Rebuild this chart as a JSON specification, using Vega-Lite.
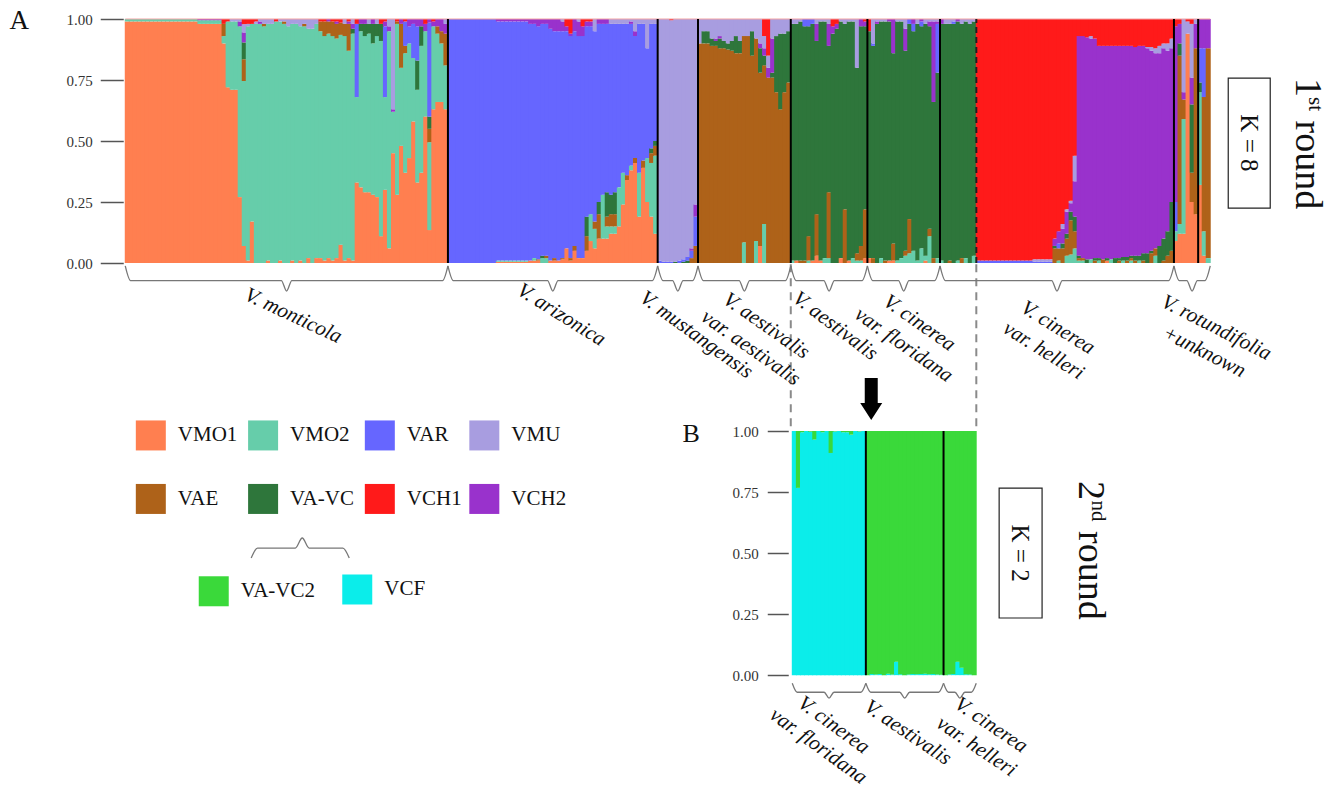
{
"$schema": "https://vega.github.io/schema/vega-lite/v6.json",
"background": "white",
"padding": {"left": 9.25, "top": 7, "right": 5, "bottom": 5},
"config": {"view": {"stroke": null}, "font": "Liberation Serif"},
"datasets": {
"A": [
{"id":1,"a":0.99,"b":0.01},{"id":2,"a":0.99,"b":0.01},{"id":3,"a":0.99,"b":0.01},{"id":4,"a":0.99,"b":0.01},{"id":5,"a":0.99,"b":0.01},{"id":6,"a":0.99,"b":0.01},{"id":7,"a":0.99,"b":0.01},{"id":8,"a":0.99,"b":0.01},{"id":9,"a":0.99,"b":0.01},{"id":10,"a":0.99,"b":0.01},{"id":11,"a":0.99,"b":0.01},{"id":12,"a":0.99,"b":0.01},{"id":13,"a":0.99,"b":0.01},{"id":14,"a":0.99,"b":0.01},{"id":15,"a":0.99,"b":0.01},{"id":16,"a":0.99,"b":0.01},{"id":17,"a":0.99,"b":0.01},{"id":18,"a":0.99,"b":0.01},
{"id":19,"a":0.98,"b":0.015,"f":0.005},{"id":20,"a":0.98,"b":0.015,"f":0.005},{"id":21,"a":0.98,"b":0.015,"f":0.005},{"id":22,"a":0.98,"b":0.015,"f":0.005},{"id":23,"a":0.98,"b":0.015,"f":0.005},{"id":24,"a":0.98,"b":0.015,"f":0.005},
{"id":25,"a":0.9,"b":0.03,"c":0.05,"h":0.02},
{"id":26,"a":0.72,"b":0.27,"h":0.01},
{"id":27,"a":0.71,"b":0.28,"g":0.01},
{"id":28,"a":0.71,"b":0.28,"g":0.01},
{"id":29,"a":0.27,"b":0.7,"f":0.02,"g":0.01},
{"id":30,"a":0.07,"b":0.676,"c":0.089,"d":0.069,"f":0.041,"g":0.034,"h":0.021},
{"id":31,"a":0.01,"b":0.96,"g":0.01,"h":0.02},
{"id":32,"a":0.17,"b":0.81,"h":0.02},
{"id":33,"b":0.98,"g":0.01,"h":0.01},
{"id":34,"b":0.98,"f":0.01,"g":0.01},
{"id":35,"b":0.97,"c":0.01,"g":0.02},
{"id":36,"a":0.01,"b":0.97,"g":0.02},
{"id":37,"b":0.98,"g":0.02},
{"id":38,"b":0.99,"h":0.01},
{"id":39,"a":0.01,"b":0.98,"g":0.01},
{"id":40,"b":0.98,"c":0.01,"g":0.01},
{"id":41,"b":0.97,"g":0.03},
{"id":42,"a":0.01,"b":0.97,"g":0.02},
{"id":43,"b":0.98,"g":0.02},
{"id":44,"a":0.01,"b":0.96,"g":0.03},
{"id":45,"b":0.97,"c":0.01,"g":0.02},
{"id":46,"a":0.02,"b":0.94,"g":0.04},
{"id":47,"b":0.96,"g":0.04},
{"id":48,"a":0.02,"b":0.96,"g":0.02},
{"id":49,"a":0.02,"b":0.93,"c":0.04,"h":0.01},
{"id":50,"a":0.01,"b":0.92,"c":0.06,"h":0.01},
{"id":51,"a":0.02,"b":0.92,"c":0.05,"f":0.01},
{"id":52,"a":0.01,"b":0.92,"c":0.06,"h":0.01},
{"id":53,"a":0.02,"b":0.9,"c":0.06,"f":0.01,"h":0.01},
{"id":54,"a":0.075,"b":0.86,"c":0.05,"h":0.015},
{"id":55,"a":0.01,"b":0.92,"c":0.05,"g":0.02},
{"id":56,"a":0.02,"b":0.85,"c":0.11,"f":0.01,"h":0.01},
{"id":57,"a":0.01,"b":0.93,"d":0.02,"f":0.02,"g":0.02},
{"id":58,"a":0.33,"b":0.35,"e":0.3,"h":0.02},
{"id":59,"a":0.31,"b":0.64,"d":0.03,"f":0.02},
{"id":60,"a":0.29,"b":0.64,"d":0.05,"f":0.02},
{"id":61,"a":0.29,"b":0.65,"d":0.04,"g":0.02},
{"id":62,"a":0.28,"b":0.62,"d":0.08,"f":0.02},
{"id":63,"a":0.27,"b":0.66,"d":0.05,"g":0.02},
{"id":64,"a":0.11,"b":0.8,"d":0.07,"h":0.02},
{"id":65,"a":0.3,"b":0.38,"e":0.29,"f":0.02,"h":0.01},
{"id":66,"a":0.06,"b":0.89,"f":0.02,"g":0.03},
{"id":67,"a":0.45,"b":0.17,"f":0.01,"g":0.37},
{"id":68,"a":0.28,"b":0.7,"c":0.01,"h":0.01},
{"id":69,"a":0.48,"b":0.32,"c":0.18,"f":0.02},
{"id":70,"a":0.37,"b":0.49,"c":0.03,"e":0.1,"h":0.01},
{"id":71,"a":0.43,"b":0.47,"e":0.07,"f":0.03},
{"id":72,"a":0.58,"b":0.26,"e":0.14,"f":0.02},
{"id":73,"a":0.33,"b":0.38,"d":0.12,"e":0.14,"f":0.03},
{"id":74,"a":0.37,"b":0.52,"d":0.08,"f":0.03},
{"id":75,"a":0.6,"b":0.35,"f":0.03,"h":0.02},
{"id":76,"a":0.135,"b":0.36,"c":0.055,"d":0.05,"e":0.385,"f":0.015},
{"id":77,"a":0.63,"b":0.34,"f":0.02,"h":0.01},
{"id":78,"a":0.66,"b":0.28,"c":0.03,"f":0.03},
{"id":79,"a":0.66,"b":0.24,"c":0.05,"f":0.05},
{"id":80,"a":0.63,"b":0.18,"c":0.13,"f":0.04,"g":0.02},
{"id":81,"e":1},{"id":82,"e":1},{"id":83,"e":1},{"id":84,"e":1},{"id":85,"e":1},{"id":86,"e":1},{"id":87,"e":1},{"id":88,"e":1},{"id":89,"e":1},{"id":90,"e":1},{"id":91,"e":1},{"id":92,"e":1},
{"id":93,"a":0.005,"b":0.005,"e":0.98,"f":0.01},{"id":94,"a":0.005,"b":0.005,"e":0.98,"f":0.01},{"id":95,"a":0.005,"b":0.005,"e":0.98,"f":0.01},{"id":96,"a":0.005,"b":0.005,"e":0.98,"f":0.01},{"id":97,"a":0.005,"b":0.005,"e":0.98,"f":0.01},{"id":98,"a":0.005,"b":0.005,"e":0.98,"f":0.01},{"id":99,"a":0.005,"b":0.005,"e":0.98,"f":0.01},{"id":100,"a":0.005,"b":0.005,"e":0.98,"f":0.01},
{"id":101,"a":0.01,"e":0.97,"f":0.02},
{"id":102,"a":0.01,"b":0.01,"e":0.96,"f":0.02},
{"id":103,"a":0.01,"c":0.005,"e":0.955,"f":0.03},
{"id":104,"b":0.02,"d":0.01,"e":0.95,"f":0.02},
{"id":105,"b":0.02,"c":0.01,"e":0.95,"f":0.02},
{"id":106,"a":0.01,"e":0.95,"f":0.04},
{"id":107,"a":0.01,"c":0.01,"e":0.93,"f":0.05},
{"id":108,"a":0.01,"e":0.94,"f":0.05},
{"id":109,"a":0.015,"c":0.005,"e":0.93,"f":0.04,"g":0.01},
{"id":110,"a":0.06,"e":0.89,"f":0.02,"h":0.03},
{"id":111,"a":0.01,"c":0.01,"e":0.91,"f":0.01,"h":0.06},
{"id":112,"a":0.05,"c":0.02,"e":0.88,"f":0.05},
{"id":113,"a":0.02,"e":0.91,"f":0.06,"g":0.01},
{"id":114,"a":0.02,"e":0.91,"f":0.04,"h":0.03},
{"id":115,"a":0.05,"c":0.06,"d":0.08,"e":0.78,"f":0.02,"h":0.01},
{"id":116,"a":0.09,"b":0.11,"e":0.77,"f":0.02,"h":0.01},
{"id":117,"a":0.06,"b":0.08,"c":0.03,"e":0.78,"g":0.05},
{"id":118,"a":0.1,"c":0.1,"d":0.05,"e":0.73,"f":0.02},
{"id":119,"a":0.1,"b":0.18,"e":0.7,"f":0.02},
{"id":120,"a":0.1,"b":0.05,"c":0.04,"d":0.1,"e":0.69,"f":0.02},
{"id":121,"a":0.12,"b":0.03,"c":0.05,"d":0.08,"e":0.7,"g":0.02},
{"id":122,"a":0.12,"b":0.03,"c":0.05,"d":0.09,"e":0.69,"g":0.02},
{"id":123,"a":0.15,"b":0.16,"e":0.67,"g":0.02},
{"id":124,"a":0.24,"b":0.13,"e":0.61,"g":0.02},
{"id":125,"a":0.34,"c":0.02,"e":0.62,"g":0.02},
{"id":126,"a":0.38,"b":0.02,"e":0.58,"f":0.01,"g":0.01},
{"id":127,"a":0.41,"c":0.02,"e":0.5,"f":0.02,"g":0.05},
{"id":128,"a":0.19,"b":0.18,"e":0.61,"g":0.02},
{"id":129,"a":0.39,"c":0.03,"e":0.56,"g":0.02},
{"id":130,"a":0.25,"b":0.18,"e":0.45,"g":0.12},
{"id":131,"a":0.19,"b":0.22,"c":0.04,"d":0.02,"e":0.51,"g":0.02},
{"id":132,"a":0.12,"b":0.32,"c":0.04,"d":0.02,"e":0.48,"g":0.02},
{"id":133,"e":0.01,"g":0.99},
{"id":134,"e":0.005,"g":0.995},
{"id":135,"e":0.005,"g":0.995},
{"id":136,"e":0.005,"g":0.99,"h":0.005},
{"id":137,"d":0.005,"g":0.995},
{"id":138,"e":0.01,"g":0.99},
{"id":139,"d":0.005,"e":0.01,"g":0.985},
{"id":140,"d":0.01,"e":0.015,"g":0.975},
{"id":141,"c":0.02,"e":0.03,"f":0.01,"g":0.94},
{"id":142,"c":0.07,"e":0.12,"f":0.05,"g":0.76},
{"id":143,"c":0.9,"g":0.1},
{"id":144,"c":0.9,"d":0.05,"g":0.05},
{"id":145,"c":0.9,"d":0.05,"g":0.05},
{"id":146,"c":0.89,"d":0.03,"g":0.08},
{"id":147,"c":0.89,"d":0.02,"f":0.01,"g":0.08},
{"id":148,"c":0.88,"d":0.04,"f":0.01,"g":0.07},
{"id":149,"c":0.88,"d":0.03,"g":0.09},
{"id":150,"c":0.875,"d":0.025,"g":0.1},
{"id":151,"c":0.87,"d":0.04,"g":0.09},
{"id":152,"c":0.86,"d":0.07,"g":0.07},
{"id":153,"c":0.86,"d":0.05,"g":0.09},
{"id":154,"b":0.085,"c":0.845,"g":0.07},
{"id":155,"c":0.93,"g":0.07},
{"id":156,"c":0.85,"d":0.1,"g":0.05},
{"id":157,"b":0.09,"c":0.83,"g":0.08},
{"id":158,"a":0.07,"c":0.71,"d":0.1,"f":0.02,"g":0.1},
{"id":159,"b":0.16,"c":0.65,"d":0.04,"f":0.03,"g":0.05,"h":0.07},
{"id":160,"c":0.76,"f":0.04,"g":0.05,"h":0.15},
{"id":161,"c":0.76,"d":0.02,"f":0.14,"g":0.08},
{"id":162,"c":0.7,"d":0.23,"g":0.07},
{"id":163,"c":0.63,"d":0.31,"g":0.06},
{"id":164,"c":0.7,"d":0.24,"g":0.06},
{"id":165,"c":0.74,"d":0.21,"g":0.05},
{"id":166,"b":0.01,"d":0.97,"g":0.02},
{"id":167,"a":0.01,"d":0.97,"g":0.02},
{"id":168,"c":0.01,"d":0.98,"g":0.01},
{"id":169,"c":0.01,"d":0.96,"e":0.03},
{"id":170,"b":0.01,"c":0.1,"d":0.86,"e":0.03},
{"id":171,"a":0.01,"d":0.97,"e":0.02},
{"id":172,"a":0.03,"c":0.17,"d":0.71,"f":0.07,"g":0.02},
{"id":173,"a":0.01,"d":0.98,"g":0.01},
{"id":174,"b":0.02,"d":0.97,"g":0.01},
{"id":175,"b":0.02,"c":0.27,"d":0.6,"f":0.09,"g":0.02},
{"id":176,"d":0.94,"f":0.03,"h":0.03},
{"id":177,"d":0.96,"f":0.02,"h":0.02},
{"id":178,"a":0.02,"d":0.97,"g":0.01},
{"id":179,"c":0.22,"d":0.76,"g":0.02},
{"id":180,"a":0.01,"d":0.98,"g":0.01},
{"id":181,"b":0.02,"d":0.97,"g":0.01},
{"id":182,"b":0.01,"c":0.03,"d":0.76,"g":0.2},
{"id":183,"b":0.01,"c":0.06,"d":0.9,"f":0.03},
{"id":184,"a":0.02,"c":0.2,"d":0.75,"f":0.02,"h":0.01},
{"id":185,"a":0.02,"d":0.93,"h":0.05},
{"id":186,"c":0.02,"d":0.87,"e":0.01,"g":0.1},
{"id":187,"d":0.98,"f":0.01,"g":0.01},
{"id":188,"b":0.02,"d":0.97,"g":0.01},
{"id":189,"c":0.01,"d":0.98,"g":0.01},
{"id":190,"a":0.01,"d":0.98,"f":0.01},
{"id":191,"a":0.01,"c":0.07,"d":0.78,"f":0.14},
{"id":192,"b":0.01,"d":0.98,"g":0.01},
{"id":193,"b":0.02,"d":0.97,"g":0.01},
{"id":194,"b":0.03,"c":0.02,"d":0.82,"f":0.09,"g":0.04},
{"id":195,"b":0.04,"c":0.14,"d":0.8,"e":0.02},
{"id":196,"b":0.05,"d":0.9,"e":0.03,"f":0.02},
{"id":197,"b":0.01,"d":0.97,"g":0.02},
{"id":198,"b":0.06,"d":0.91,"e":0.02,"f":0.01},
{"id":199,"a":0.01,"b":0.02,"d":0.95,"g":0.02},
{"id":200,"b":0.11,"c":0.03,"d":0.83,"f":0.02,"g":0.01},
{"id":201,"c":0.02,"d":0.64,"f":0.33,"g":0.01},
{"id":202,"b":0.02,"d":0.76,"e":0.2,"f":0.01,"g":0.01},
{"id":203,"b":0.01,"d":0.97,"f":0.02},
{"id":204,"d":0.98,"g":0.02},
{"id":205,"c":0.01,"d":0.97,"g":0.02},
{"id":206,"d":0.98,"e":0.01,"g":0.01},
{"id":207,"b":0.01,"d":0.98,"f":0.01},
{"id":208,"c":0.02,"d":0.96,"g":0.02},
{"id":209,"b":0.02,"d":0.97,"g":0.01},
{"id":210,"d":0.98,"g":0.02},
{"id":211,"b":0.03,"d":0.96,"g":0.01},
{"id":212,"e":0.01,"h":0.99},{"id":213,"e":0.01,"h":0.99},{"id":214,"e":0.01,"h":0.99},{"id":215,"e":0.01,"h":0.99},{"id":216,"e":0.01,"h":0.99},{"id":217,"e":0.01,"h":0.99},{"id":218,"e":0.01,"h":0.99},{"id":219,"e":0.01,"h":0.99},{"id":220,"e":0.01,"h":0.99},{"id":221,"e":0.01,"h":0.99},{"id":222,"e":0.01,"h":0.99},{"id":223,"e":0.01,"h":0.99},{"id":224,"e":0.01,"h":0.99},{"id":225,"e":0.01,"h":0.99},
{"id":226,"e":0.005,"g":0.01,"h":0.985},{"id":227,"e":0.005,"g":0.01,"h":0.985},{"id":228,"e":0.005,"g":0.01,"h":0.985},{"id":229,"e":0.005,"g":0.01,"h":0.985},{"id":230,"e":0.005,"g":0.01,"h":0.985},
{"id":231,"c":0.06,"d":0.01,"f":0.03,"h":0.9},
{"id":232,"b":0.01,"c":0.05,"e":0.02,"f":0.05,"h":0.87},
{"id":233,"c":0.06,"d":0.02,"f":0.06,"g":0.02,"h":0.84},
{"id":234,"b":0.03,"c":0.07,"d":0.02,"f":0.09,"g":0.01,"h":0.78},
{"id":235,"b":0.035,"c":0.14,"d":0.035,"f":0.035,"g":0.01,"h":0.745},
{"id":236,"b":0.06,"c":0.07,"d":0.06,"f":0.145,"g":0.105,"h":0.56},
{"id":237,"b":0.01,"c":0.01,"d":0.01,"f":0.9,"h":0.07},
{"id":238,"b":0.01,"c":0.01,"f":0.91,"h":0.07},
{"id":239,"d":0.015,"f":0.91,"h":0.075},
{"id":240,"b":0.015,"f":0.905,"g":0.01,"h":0.07},
{"id":241,"c":0.01,"d":0.01,"f":0.9,"h":0.08},
{"id":242,"b":0.01,"d":0.01,"f":0.87,"h":0.11},
{"id":243,"c":0.015,"f":0.875,"h":0.11},
{"id":244,"a":0.01,"d":0.01,"f":0.87,"h":0.11},
{"id":245,"b":0.015,"f":0.875,"h":0.11},
{"id":246,"d":0.02,"f":0.87,"h":0.11},
{"id":247,"c":0.01,"d":0.01,"f":0.87,"h":0.11},
{"id":248,"b":0.01,"d":0.015,"f":0.865,"h":0.11},
{"id":249,"c":0.01,"d":0.015,"f":0.865,"h":0.11},
{"id":250,"b":0.01,"c":0.01,"d":0.01,"f":0.86,"h":0.11},
{"id":251,"c":0.01,"d":0.02,"f":0.855,"h":0.115},
{"id":252,"b":0.01,"d":0.02,"f":0.86,"h":0.11},
{"id":253,"c":0.01,"d":0.03,"f":0.85,"h":0.11},
{"id":254,"d":0.04,"f":0.84,"g":0.005,"h":0.115},
{"id":255,"c":0.04,"d":0.01,"f":0.82,"g":0.015,"h":0.115},
{"id":256,"b":0.03,"c":0.03,"f":0.8,"g":0.02,"h":0.12},
{"id":257,"d":0.07,"f":0.79,"g":0.03,"h":0.11},
{"id":258,"c":0.01,"d":0.09,"f":0.78,"g":0.02,"h":0.1},
{"id":259,"c":0.03,"d":0.1,"f":0.74,"g":0.03,"h":0.1},
{"id":260,"c":0.05,"d":0.2,"f":0.63,"g":0.04,"h":0.08},
{"id":261,"a":0.09,"b":0.04,"e":0.12,"f":0.72,"h":0.03},
{"id":262,"a":0.12,"b":0.04,"c":0.69,"d":0.05,"f":0.08,"h":0.02},
{"id":263,"a":0.12,"b":0.47,"c":0.08,"f":0.03,"g":0.3},
{"id":264,"a":0.94,"g":0.05,"h":0.01},
{"id":265,"a":0.25,"c":0.12,"d":0.28,"f":0.11,"g":0.22,"h":0.02},
{"id":266,"a":0.2,"c":0.68,"f":0.1,"g":0.02},
{"id":267,"a":0.32,"b":0.38,"d":0.04,"e":0.14,"f":0.12},
{"id":268,"a":0.03,"b":0.1,"c":0.55,"e":0.2,"f":0.12},
{"id":269,"b":0.02,"c":0.86,"f":0.12}
],
"B": [
{"id":1,"i":1},{"id":2,"i":0.767,"j":0.233},{"id":3,"i":0.995,"j":0.005},{"id":4,"i":1},{"id":5,"i":0.997,"j":0.003},{"id":6,"i":0.965,"j":0.035},{"id":7,"i":1},{"id":8,"i":0.995,"j":0.005},{"id":9,"i":1},{"id":10,"i":0.91,"j":0.09},{"id":11,"i":0.998,"j":0.002},{"id":12,"i":1},{"id":13,"i":0.995,"j":0.005},{"id":14,"i":0.995,"j":0.005},{"id":15,"i":0.985,"j":0.015},{"id":16,"i":1},{"id":17,"i":0.998,"j":0.002},{"id":18,"i":1},
{"id":19,"j":1},{"id":20,"i":0.005,"j":0.995},{"id":21,"i":0.003,"j":0.997},{"id":22,"i":0.005,"j":0.995},{"id":23,"j":1},{"id":24,"i":0.006,"j":0.994},{"id":25,"i":0.003,"j":0.997},{"id":26,"i":0.055,"j":0.945},{"id":27,"i":0.004,"j":0.996},{"id":28,"j":1},{"id":29,"i":0.003,"j":0.997},{"id":30,"i":0.005,"j":0.995},{"id":31,"i":0.004,"j":0.996},{"id":32,"i":0.005,"j":0.995},{"id":33,"i":0.006,"j":0.994},{"id":34,"i":0.004,"j":0.996},{"id":35,"i":0.005,"j":0.995},{"id":36,"i":0.003,"j":0.997},{"id":37,"i":0.002,"j":0.998},
{"id":38,"j":1},{"id":39,"i":0.003,"j":0.997},{"id":40,"i":0.005,"j":0.995},{"id":41,"i":0.055,"j":0.945},{"id":42,"i":0.03,"j":0.97},{"id":43,"i":0.004,"j":0.996},{"id":44,"i":0.003,"j":0.997},{"id":45,"j":1}
],
"braceA": [
{"g":1,"x":0.5,"y":-0.012},{"g":1,"x":1.8,"y":-0.072},{"g":1,"x":39.2,"y":-0.072},{"g":1,"x":40.5,"y":-0.115},{"g":1,"x":41.8,"y":-0.072},{"g":1,"x":79.2,"y":-0.072},{"g":1,"x":80.5,"y":-0.012},
{"g":2,"x":80.5,"y":-0.012},{"g":2,"x":81.8,"y":-0.072},{"g":2,"x":105.2,"y":-0.072},{"g":2,"x":106.5,"y":-0.115},{"g":2,"x":107.8,"y":-0.072},{"g":2,"x":131.2,"y":-0.072},{"g":2,"x":132.5,"y":-0.012},
{"g":3,"x":132.5,"y":-0.012},{"g":3,"x":133.8,"y":-0.072},{"g":3,"x":136.2,"y":-0.072},{"g":3,"x":137.5,"y":-0.115},{"g":3,"x":138.8,"y":-0.072},{"g":3,"x":141.2,"y":-0.072},{"g":3,"x":142.5,"y":-0.012},
{"g":4,"x":142.5,"y":-0.012},{"g":4,"x":143.8,"y":-0.072},{"g":4,"x":152.7,"y":-0.072},{"g":4,"x":154,"y":-0.115},{"g":4,"x":155.3,"y":-0.072},{"g":4,"x":164.2,"y":-0.072},{"g":4,"x":165.5,"y":-0.012},
{"g":5,"x":165.5,"y":-0.012},{"g":5,"x":166.8,"y":-0.072},{"g":5,"x":173.7,"y":-0.072},{"g":5,"x":175,"y":-0.115},{"g":5,"x":176.3,"y":-0.072},{"g":5,"x":183.2,"y":-0.072},{"g":5,"x":184.5,"y":-0.012},
{"g":6,"x":184.5,"y":-0.012},{"g":6,"x":185.8,"y":-0.072},{"g":6,"x":192.2,"y":-0.072},{"g":6,"x":193.5,"y":-0.115},{"g":6,"x":194.8,"y":-0.072},{"g":6,"x":201.2,"y":-0.072},{"g":6,"x":202.5,"y":-0.012},
{"g":7,"x":202.5,"y":-0.012},{"g":7,"x":203.8,"y":-0.072},{"g":7,"x":230.2,"y":-0.072},{"g":7,"x":231.5,"y":-0.115},{"g":7,"x":232.8,"y":-0.072},{"g":7,"x":259.2,"y":-0.072},{"g":7,"x":260.5,"y":-0.012},
{"g":8,"x":260.5,"y":-0.012},{"g":8,"x":261.8,"y":-0.072},{"g":8,"x":263.7,"y":-0.072},{"g":8,"x":265,"y":-0.115},{"g":8,"x":266.3,"y":-0.072},{"g":8,"x":268.2,"y":-0.072},{"g":8,"x":269.5,"y":-0.012}
],
"braceB": [
{"g":1,"x":0.5,"y":-0.033},{"g":1,"x":1.7,"y":-0.07},{"g":1,"x":8.3,"y":-0.07},{"g":1,"x":9.5,"y":-0.094},{"g":1,"x":10.7,"y":-0.07},{"g":1,"x":17.3,"y":-0.07},{"g":1,"x":18.5,"y":-0.033},
{"g":2,"x":18.5,"y":-0.033},{"g":2,"x":19.7,"y":-0.07},{"g":2,"x":26.8,"y":-0.07},{"g":2,"x":28,"y":-0.094},{"g":2,"x":29.2,"y":-0.07},{"g":2,"x":36.3,"y":-0.07},{"g":2,"x":37.5,"y":-0.033},
{"g":3,"x":37.5,"y":-0.033},{"g":3,"x":38.7,"y":-0.07},{"g":3,"x":40.3,"y":-0.07},{"g":3,"x":41.5,"y":-0.094},{"g":3,"x":42.7,"y":-0.07},{"g":3,"x":44.3,"y":-0.07},{"g":3,"x":45.5,"y":-0.033}
],
"labA": [
{"t":"V. monticola","x":42.15,"y":-0.217,"r":25},
{"t":"V. arizonica","x":108.6,"y":-0.213,"r":32},
{"t":"V. mustangensis","x":142.06,"y":-0.295,"r":36},
{"t":"V. aestivalis\nvar. aestivalis","x":159.4,"y":-0.258,"r":35},
{"t":"V. aestivalis","x":176.5,"y":-0.258,"r":37},
{"t":"V. cinerea\nvar. floridana","x":197.35,"y":-0.246,"r":35},
{"t":"V. cinerea\nvar. helleri","x":231.7,"y":-0.266,"r":32},
{"t":"V. rotundifolia\n+unknown","x":271.0,"y":-0.266,"r":27}
],
"labB": [
{"t":"V. cinerea\nvar. floridana","x":10.6,"y":-0.205,"r":36},
{"t":"V. aestivalis","x":28.74,"y":-0.236,"r":34},
{"t":"V. cinerea\nvar. helleri","x":49.1,"y":-0.205,"r":34}
],
"leg": [
{"n":"VMO1","k":"a","c":0,"r":0},{"n":"VMO2","k":"b","c":1.01,"r":0},{"n":"VAR","k":"e","c":2.06,"r":0},{"n":"VMU","k":"g","c":3.0,"r":0},
{"n":"VAE","k":"c","c":0,"r":1},{"n":"VA-VC","k":"d","c":1.01,"r":1},{"n":"VCH1","k":"h","c":2.06,"r":1},{"n":"VCH2","k":"f","c":3.0,"r":1},
{"n":"VA-VC2","k":"j","c":0.566,"r":2.454},{"n":"VCF","k":"i","c":1.857,"r":2.426}
],
"legBrace": [
{"x":0.903,"y":1.93},{"x":0.96,"y":1.773},{"x":1.3,"y":1.773},{"x":1.362,"y":1.615},{"x":1.424,"y":1.773},{"x":1.728,"y":1.773},{"x":1.785,"y":1.93}
]
},
"bounds": "flush",
"spacing": 46,
"vconcat": [
{
"width": 1085,
"height": 366,
"layer": [
{
"data": {"name": "A"},
"transform": [{"fold": ["a","b","c","d","e","f","g","h"], "as": ["k","v"]}, {"filter": "datum.v > 0"}],
"mark": {"type": "bar", "width": 5},
"encoding": {
"x": {"field": "id", "type": "quantitative", "scale": {"domain": [0.5, 269.5], "nice": false, "zero": false, "padding": 0}, "axis": null},
"y": {"field": "v", "type": "quantitative", "stack": "normalize", "scale": {"domain": [-0.5, 1], "nice": false, "zero": false},
"axis": {"values": [0, 0.25, 0.5, 0.75, 1], "labelExpr": "format(datum.value, '.2f')", "title": null, "domain": false, "grid": false, "tickSize": 23, "tickWidth": 1.5, "tickColor": "#555", "offset": 2, "labelPadding": 8, "labelFontSize": 15, "labelColor": "#333", "labelFont": "Liberation Serif"}},
"color": {"field": "k", "type": "nominal", "legend": null, "scale": {"domain": ["a","b","c","d","e","f","g","h","i","j"], "range": ["#FF7F50","#66CDAA","#AE6219","#2E763B","#6666FF","#9932CC","#A89DE0","#FF1A1A","#0BEDEA","#3AD93A"]}},
"order": {"field": "k", "type": "ordinal", "sort": "ascending"}
}
},
{
"data": {"values": [{}]},
"mark": {"type": "rule", "color": "#F2A3A3", "strokeWidth": 1},
"encoding": {"x": {"datum": 0.5}, "x2": {"datum": 269.5}, "y": {"datum": 1}}
},
{
"data": {"values": [{"x":80.5},{"x":132.5},{"x":142.5},{"x":165.5},{"x":184.5},{"x":202.5},{"x":260.5},{"x":266.5}]},
"mark": {"type": "rule", "color": "black", "strokeWidth": 2},
"encoding": {"x": {"field": "x", "type": "quantitative"}, "y": {"datum": 0}, "y2": {"datum": 1}}
},
{
"data": {"values": [{"x":211.5}]},
"mark": {"type": "rule", "color": "#222", "strokeWidth": 2, "strokeDash": [6, 4]},
"encoding": {"x": {"field": "x", "type": "quantitative"}, "y": {"datum": 0}, "y2": {"datum": 1}}
},
{
"data": {"values": [{"x":165.5},{"x":211.5}]},
"mark": {"type": "rule", "color": "#8a8a8a", "strokeWidth": 2, "strokeDash": [8, 6]},
"encoding": {"x": {"field": "x", "type": "quantitative"}, "y": {"datum": -0.005}, "y2": {"datum": -0.689}}
},
{
"data": {"name": "braceA"},
"mark": {"type": "line", "interpolate": "monotone", "color": "#777", "strokeWidth": 1.3},
"encoding": {"x": {"field": "x", "type": "quantitative"}, "y": {"field": "y", "type": "quantitative"}, "detail": {"field": "g", "type": "nominal"}}
},
{
"data": {"name": "labA"},
"mark": {"type": "text", "font": "Liberation Serif", "fontStyle": "italic", "fontSize": 21, "lineBreak": "\n", "lineHeight": 27, "align": "center", "baseline": "middle", "color": "#111"},
"encoding": {"x": {"field": "x", "type": "quantitative"}, "y": {"field": "y", "type": "quantitative"}, "text": {"field": "t", "type": "nominal"}, "angle": {"field": "r", "type": "quantitative", "scale": null}}
},
{
"data": {"values": [{}]},
"mark": {"type": "text", "text": "A", "font": "Liberation Serif", "fontSize": 27, "align": "center", "baseline": "alphabetic", "color": "#111"},
"encoding": {"x": {"datum": -25.8}, "y": {"datum": 0.959}}
},
{
"data": {"values": [{}]},
"mark": {"type": "rect", "fill": "white", "stroke": "#222", "strokeWidth": 1.2},
"encoding": {"x": {"datum": 273.96}, "x2": {"datum": 284.37}, "y": {"datum": 0.758}, "y2": {"datum": 0.225}}
},
{
"data": {"values": [{}]},
"mark": {"type": "text", "text": "K = 8", "font": "Liberation Serif", "fontSize": 25, "angle": 90, "align": "center", "baseline": "middle", "color": "#111"},
"encoding": {"x": {"datum": 279.17}, "y": {"datum": 0.492}}
},
{
"data": {"values": [{}]},
"mark": {"type": "text", "text": "1", "font": "Liberation Serif", "fontSize": 38, "angle": 90, "align": "left", "baseline": "alphabetic", "color": "#111"},
"encoding": {"x": {"datum": 290.8}, "y": {"datum": 0.758}}
},
{
"data": {"values": [{}]},
"mark": {"type": "text", "text": "st", "font": "Liberation Serif", "fontSize": 21, "angle": 90, "align": "left", "baseline": "alphabetic", "color": "#111"},
"encoding": {"x": {"datum": 294.0}, "y": {"datum": 0.68}}
},
{
"data": {"values": [{}]},
"mark": {"type": "text", "text": "round", "font": "Liberation Serif", "fontSize": 38, "angle": 90, "align": "left", "baseline": "alphabetic", "color": "#111"},
"encoding": {"x": {"datum": 290.8}, "y": {"datum": 0.584}}
},
{
"data": {"values": [{}]},
"mark": {"type": "point", "shape": "M-0.59,-3.05L0.59,-3.05L0.59,-0.77L1,-0.77L0,0.77L-1,-0.77L-0.59,-0.77Z", "size": 484, "filled": true, "color": "black", "opacity": 1},
"encoding": {"x": {"datum": 185.45}, "y": {"datum": -0.6086}}
}
]
},
{
"bounds": "flush",
"spacing": 0,
"hconcat": [
{
"width": 667,
"height": 354,
"layer": [
{
"data": {"name": "leg"},
"mark": {"type": "point", "shape": "square", "size": 900, "filled": true, "opacity": 1},
"encoding": {
"x": {"field": "c", "type": "quantitative", "scale": {"domain": [-0.23, 5.77], "nice": false, "zero": false, "padding": 0}, "axis": null},
"y": {"field": "r", "type": "quantitative", "scale": {"domain": [-0.07, 5.505], "nice": false, "zero": false, "reverse": true}, "axis": null},
"color": {"field": "k", "type": "nominal", "legend": null, "scale": {"domain": ["a","b","c","d","e","f","g","h","i","j"], "range": ["#FF7F50","#66CDAA","#AE6219","#2E763B","#6666FF","#9932CC","#A89DE0","#FF1A1A","#0BEDEA","#3AD93A"]}}
}
},
{
"data": {"name": "leg"},
"mark": {"type": "text", "font": "Liberation Serif", "fontSize": 21, "align": "left", "baseline": "middle", "dx": 27, "color": "#111"},
"encoding": {"x": {"field": "c", "type": "quantitative"}, "y": {"field": "r", "type": "quantitative"}, "text": {"field": "n", "type": "nominal"}}
},
{
"data": {"name": "legBrace"},
"mark": {"type": "line", "interpolate": "monotone", "color": "#777", "strokeWidth": 1.3},
"encoding": {"x": {"field": "x", "type": "quantitative"}, "y": {"field": "y", "type": "quantitative"}}
}
]
},
{
"width": 184,
"height": 354,
"layer": [
{
"data": {"name": "B"},
"transform": [{"fold": ["i","j"], "as": ["k","v"]}, {"filter": "datum.v > 0"}],
"mark": {"type": "bar", "width": 5},
"encoding": {
"x": {"field": "id", "type": "quantitative", "scale": {"domain": [0.5, 45.5], "nice": false, "zero": false, "padding": 0}, "axis": null},
"y": {"field": "v", "type": "quantitative", "stack": "normalize", "scale": {"domain": [-0.45, 1], "nice": false, "zero": false},
"axis": {"values": [0, 0.25, 0.5, 0.75, 1], "labelExpr": "format(datum.value, '.2f')", "title": null, "domain": false, "grid": false, "tickSize": 21, "tickWidth": 1.5, "tickColor": "#555", "offset": 4, "labelPadding": 9, "labelFontSize": 15, "labelColor": "#333", "labelFont": "Liberation Serif"}},
"color": {"field": "k", "type": "nominal", "legend": null, "scale": {"domain": ["a","b","c","d","e","f","g","h","i","j"], "range": ["#FF7F50","#66CDAA","#AE6219","#2E763B","#6666FF","#9932CC","#A89DE0","#FF1A1A","#0BEDEA","#3AD93A"]}},
"order": {"field": "k", "type": "ordinal", "sort": "ascending"}
}
},
{
"data": {"values": [{"x":18.5},{"x":37.5}]},
"mark": {"type": "rule", "color": "black", "strokeWidth": 2},
"encoding": {"x": {"field": "x", "type": "quantitative"}, "y": {"datum": 0}, "y2": {"datum": 1}}
},
{
"data": {"name": "braceB"},
"mark": {"type": "line", "interpolate": "monotone", "color": "#777", "strokeWidth": 1.3},
"encoding": {"x": {"field": "x", "type": "quantitative"}, "y": {"field": "y", "type": "quantitative"}, "detail": {"field": "g", "type": "nominal"}}
},
{
"data": {"name": "labB"},
"mark": {"type": "text", "font": "Liberation Serif", "fontStyle": "italic", "fontSize": 21, "lineBreak": "\n", "lineHeight": 26, "align": "center", "baseline": "middle", "color": "#111"},
"encoding": {"x": {"field": "x", "type": "quantitative"}, "y": {"field": "y", "type": "quantitative"}, "text": {"field": "t", "type": "nominal"}, "angle": {"field": "r", "type": "quantitative", "scale": null}}
},
{
"data": {"values": [{}]},
"mark": {"type": "text", "text": "B", "font": "Liberation Serif", "fontSize": 26, "align": "center", "baseline": "alphabetic", "color": "#111"},
"encoding": {"x": {"datum": -24.2}, "y": {"datum": 0.955}}
},
{
"data": {"values": [{}]},
"mark": {"type": "rect", "fill": "white", "stroke": "#222", "strokeWidth": 1.2},
"encoding": {"x": {"datum": 51.1}, "x2": {"datum": 61.6}, "y": {"datum": 0.766}, "y2": {"datum": 0.234}}
},
{
"data": {"values": [{}]},
"mark": {"type": "text", "text": "K = 2", "font": "Liberation Serif", "fontSize": 25, "angle": 90, "align": "center", "baseline": "middle", "color": "#111"},
"encoding": {"x": {"datum": 56.3}, "y": {"datum": 0.5}}
},
{
"data": {"values": [{}]},
"mark": {"type": "text", "text": "2", "font": "Liberation Serif", "fontSize": 38, "angle": 90, "align": "left", "baseline": "alphabetic", "color": "#111"},
"encoding": {"x": {"datum": 70.67}, "y": {"datum": 0.795}}
},
{
"data": {"values": [{}]},
"mark": {"type": "text", "text": "nd", "font": "Liberation Serif", "fontSize": 21, "angle": 90, "align": "left", "baseline": "alphabetic", "color": "#111"},
"encoding": {"x": {"datum": 73.85}, "y": {"datum": 0.715}}
},
{
"data": {"values": [{}]},
"mark": {"type": "text", "text": "round", "font": "Liberation Serif", "fontSize": 38, "angle": 90, "align": "left", "baseline": "alphabetic", "color": "#111"},
"encoding": {"x": {"datum": 70.67}, "y": {"datum": 0.59}}
}
]
}
]
}
]
}
